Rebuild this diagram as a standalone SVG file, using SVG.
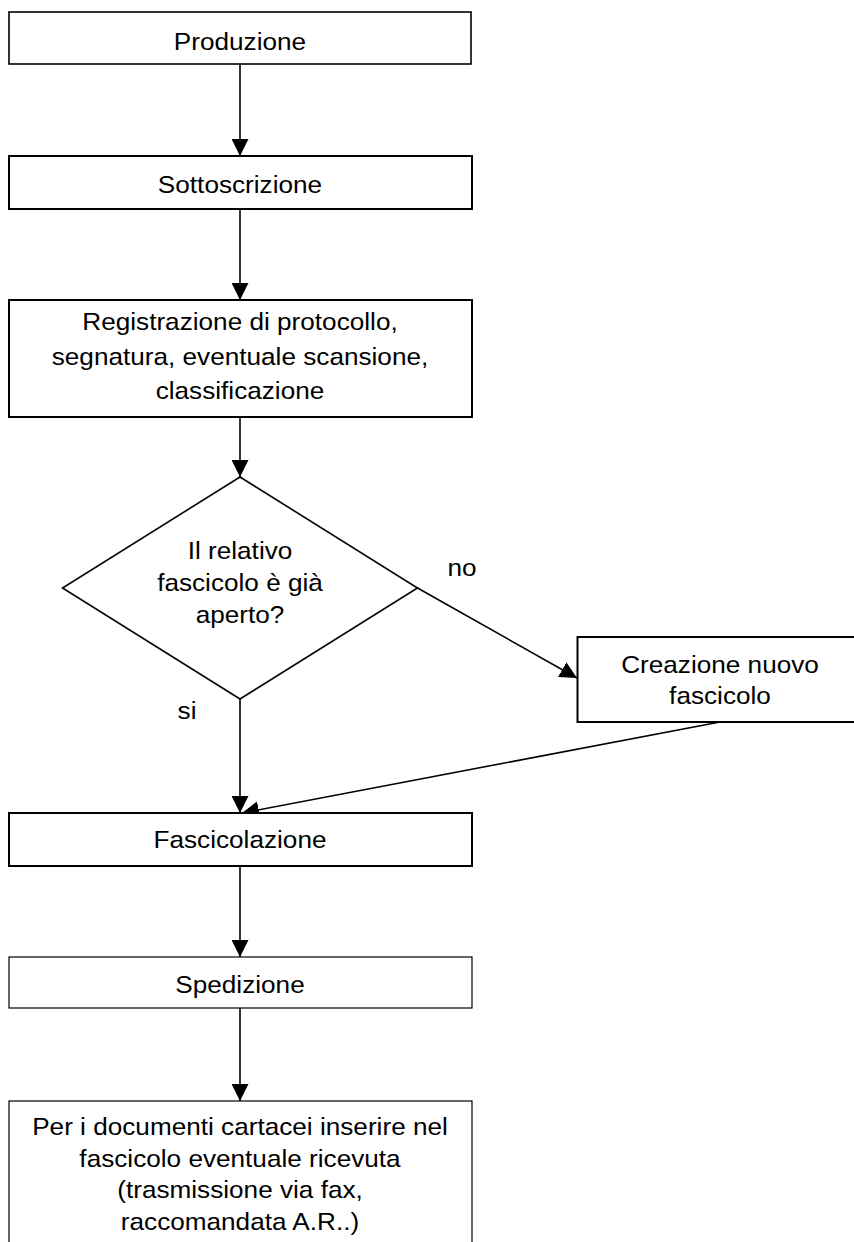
<svg xmlns="http://www.w3.org/2000/svg" width="854" height="1242" viewBox="0 0 854 1242">
  <style>
    .box { fill: #ffffff; stroke: #000000; stroke-width: 1.6; }
    .thick { stroke-width: 2; }
    .thin { stroke-width: 1.2; }
    .lbl { font-family: "Liberation Sans", Arial, sans-serif; font-size: 24px; fill: #000000; text-anchor: middle; }
    .edge { fill: none; stroke: #000000; stroke-width: 1.6; marker-end: url(#arrow); }
  </style>
  <defs>
    <marker id="arrow" markerUnits="userSpaceOnUse" markerWidth="17" markerHeight="17" viewBox="0 0 16 16" refX="16" refY="8" orient="auto">
      <path d="M0,0 L16,8 L0,16 Z" fill="#000000"/>
    </marker>
  </defs>
  <rect width="854" height="1242" fill="#ffffff"/>

  <!-- connectors; labels are widened horizontally about their centre -->
  <g id="connectors">
    <line class="edge" x1="240" y1="64" x2="240" y2="156"/>
    <line class="edge" x1="240" y1="209" x2="240" y2="300"/>
    <line class="edge" x1="240" y1="417" x2="240" y2="477"/>
    <line class="edge" x1="417.5" y1="588" x2="577" y2="678"/>
    <line class="edge" x1="240" y1="699" x2="240" y2="813"/>
    <line class="edge" x1="720" y1="722" x2="242" y2="813"/>
    <line class="edge" x1="240" y1="866" x2="240" y2="957"/>
    <line class="edge" x1="240" y1="1008" x2="240" y2="1101"/>
    <text class="lbl" x="462" y="576" transform="matrix(1.09 0 0 1 -41.58 0)">no</text>
    <text class="lbl" x="187" y="719" transform="matrix(1.09 0 0 1 -16.83 0)">si</text>
  </g>

  <g id="produzione">
    <rect class="box" x="9" y="12" width="462" height="52"/>
    <text class="lbl" x="240" y="50" transform="matrix(1.09 0 0 1 -21.6 0)">Produzione</text>
  </g>

  <g id="sottoscrizione">
    <rect class="box thick" x="9" y="156" width="463" height="53"/>
    <text class="lbl" x="240" y="193" transform="matrix(1.09 0 0 1 -21.6 0)">Sottoscrizione</text>
  </g>

  <g id="registrazione">
    <rect class="box thick" x="9" y="300" width="463" height="117"/>
    <g transform="matrix(1.09 0 0 1 -21.6 0)">
      <text class="lbl" x="240" y="330">Registrazione di protocollo,</text>
      <text class="lbl" x="240" y="365">segnatura, eventuale scansione,</text>
      <text class="lbl" x="240" y="399">classificazione</text>
    </g>
  </g>

  <g id="decisione">
    <polygon class="box" points="240,477 417.5,588 240,699 62.5,588"/>
    <g transform="matrix(1.09 0 0 1 -21.6 0)">
      <text class="lbl" x="240" y="559">Il relativo</text>
      <text class="lbl" x="240" y="591">fascicolo è già</text>
      <text class="lbl" x="240" y="623">aperto?</text>
    </g>
  </g>

  <g id="creazione">
    <rect class="box thick" x="577.5" y="637" width="286" height="85"/>
    <g transform="matrix(1.09 0 0 1 -64.8 0)">
      <text class="lbl" x="720" y="673">Creazione nuovo</text>
      <text class="lbl" x="720" y="704">fascicolo</text>
    </g>
  </g>

  <g id="fascicolazione">
    <rect class="box thick" x="9" y="813" width="463" height="53"/>
    <text class="lbl" x="240" y="848" transform="matrix(1.09 0 0 1 -21.6 0)">Fascicolazione</text>
  </g>

  <g id="spedizione">
    <rect class="box thin" x="9" y="957" width="463" height="51"/>
    <text class="lbl" x="240" y="993" transform="matrix(1.09 0 0 1 -21.6 0)">Spedizione</text>
  </g>

  <g id="ricevuta">
    <rect class="box thin" x="9" y="1101" width="463" height="160"/>
    <g transform="matrix(1.09 0 0 1 -21.6 0)">
      <text class="lbl" x="240" y="1135">Per i documenti cartacei inserire nel</text>
      <text class="lbl" x="240" y="1167">fascicolo eventuale ricevuta</text>
      <text class="lbl" x="240" y="1198">(trasmissione via fax,</text>
      <text class="lbl" x="240" y="1230">raccomandata A.R..)</text>
    </g>
  </g>
</svg>
